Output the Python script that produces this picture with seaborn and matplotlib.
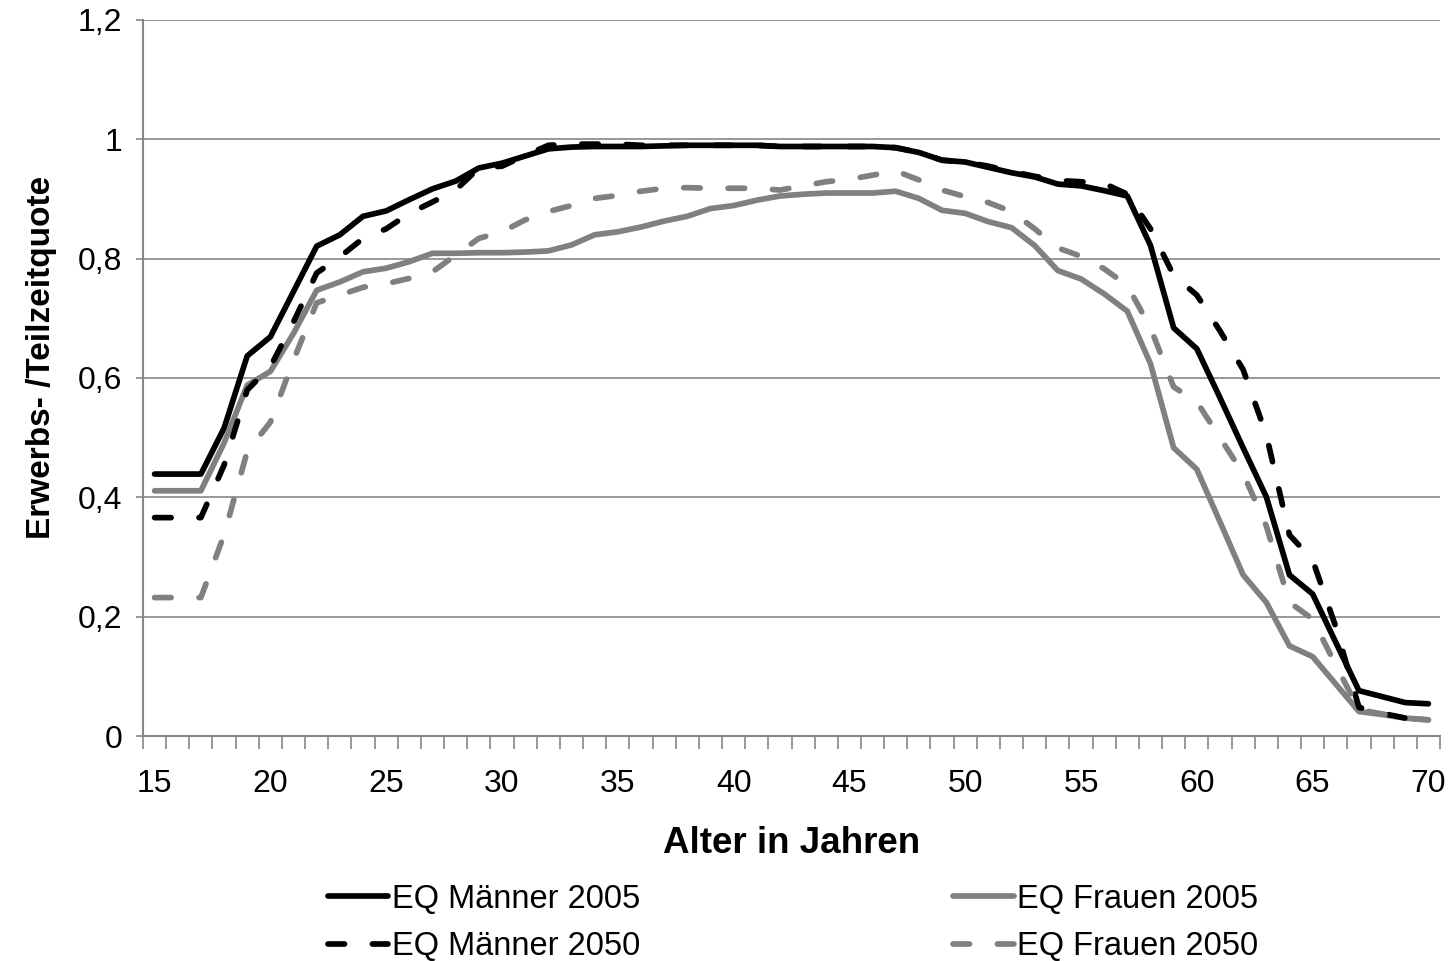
import matplotlib
matplotlib.use("Agg")
import matplotlib.pyplot as plt
import seaborn as sns
import numpy as np
from matplotlib.ticker import FixedLocator, FuncFormatter

ages = list(range(15, 71))

m2005 = [0.439, 0.439, 0.439, 0.516, 0.637, 0.669, 0.745, 0.821, 0.840, 0.871,
         0.880, 0.899, 0.917, 0.930, 0.952, 0.960, 0.972, 0.984, 0.987, 0.988,
         0.988, 0.988, 0.989, 0.990, 0.990, 0.990, 0.990, 0.988, 0.988, 0.988,
         0.988, 0.988, 0.986, 0.978, 0.965, 0.962, 0.953, 0.944, 0.937, 0.925,
         0.922, 0.914, 0.905, 0.822, 0.684, 0.649, 0.567, 0.483, 0.401, 0.270,
         0.238, 0.157, 0.076, 0.066, 0.056, 0.054]

f2005 = [0.411, 0.411, 0.411, 0.491, 0.588, 0.611, 0.675, 0.747, 0.761, 0.778,
         0.784, 0.795, 0.809, 0.809, 0.810, 0.810, 0.811, 0.813, 0.823, 0.840,
         0.845, 0.853, 0.863, 0.871, 0.884, 0.889, 0.898, 0.905, 0.908, 0.910,
         0.910, 0.910, 0.913, 0.901, 0.881, 0.876, 0.862, 0.852, 0.822, 0.780,
         0.766, 0.741, 0.712, 0.624, 0.483, 0.447, 0.359, 0.270, 0.224, 0.151,
         0.133, 0.087, 0.041, 0.036, 0.030, 0.027]

m2050 = [0.366, 0.366, 0.366, 0.454, 0.580, 0.619, 0.694, 0.776, 0.803, 0.834,
         0.850, 0.876, 0.895, 0.915, 0.952, 0.955, 0.973, 0.990, 0.992, 0.992,
         0.992, 0.990, 0.990, 0.990, 0.990, 0.990, 0.990, 0.988, 0.988, 0.988,
         0.988, 0.988, 0.986, 0.978, 0.965, 0.962, 0.955, 0.946, 0.938, 0.931,
         0.929, 0.926, 0.908, 0.850, 0.772, 0.739, 0.679, 0.614, 0.505, 0.337,
         0.295, 0.183, 0.048, 0.038, 0.030, 0.028]

f2050 = [0.232, 0.232, 0.232, 0.337, 0.477, 0.526, 0.630, 0.726, 0.739, 0.752,
         0.758, 0.767, 0.778, 0.806, 0.834, 0.845, 0.865, 0.879, 0.889, 0.901,
         0.906, 0.913, 0.918, 0.919, 0.918, 0.918, 0.918, 0.915, 0.922, 0.929,
         0.933, 0.940, 0.947, 0.932, 0.915, 0.904, 0.894, 0.879, 0.850, 0.818,
         0.804, 0.783, 0.755, 0.684, 0.585, 0.560, 0.500, 0.440, 0.352, 0.224,
         0.196, 0.119, 0.044, 0.037, 0.030, 0.027]

labels = ["EQ Männer 2005", "EQ Frauen 2005", "EQ Männer 2050", "EQ Frauen 2050"]
x_label = "Alter in Jahren"
y_label = "Erwerbs- /Teilzeitquote"
y_ticks = [0, 0.2, 0.4, 0.6, 0.8, 1.0, 1.2]
x_tick_labels = [15, 20, 25, 30, 35, 40, 45, 50, 55, 60, 65, 70]

sns.set_theme(style="white")
plt.rcParams['font.family'] = ['Liberation Sans', 'DejaVu Sans']
plt.rcParams['text.color'] = 'black'
plt.rcParams['axes.labelcolor'] = 'black'
plt.rcParams['xtick.color'] = 'black'
plt.rcParams['ytick.color'] = 'black'

fig = plt.figure(figsize=(14.5, 9.61), dpi=100)
ax = fig.add_axes([143/1450, 1-736/961, (1440-143)/1450, (736-20)/961])

BLACK = "#000000"
GRAY = "#808080"
LW = 4.1
dash = (2.9, 4.9)

series = [
    (m2005, BLACK, None),
    (f2005, GRAY, None),
    (m2050, BLACK, dash),
    (f2050, GRAY, dash),
]
handles = []
for (vals, col, ds), lab in zip(series, labels):
    sns.lineplot(x=ages, y=vals, ax=ax, color=col, linewidth=LW, label=lab,
                 legend=False)
    line = ax.get_lines()[-1]
    line.set_solid_capstyle('round')
    line.set_dash_capstyle('round')
    line.set_solid_joinstyle('round')
    line.set_dash_joinstyle('round')
    if ds is not None:
        line.set_dashes(ds)
    handles.append(line)

ax.set_xlim(14.5, 70.5)
ax.set_ylim(0, 1.2)

ax.yaxis.set_major_locator(FixedLocator(y_ticks))
ax.yaxis.set_major_formatter(FuncFormatter(
    lambda v, p: ("%g" % round(v, 1)).replace(".", ",")))
ax.grid(axis='y', color="#868686", linewidth=1.2)
ax.set_axisbelow(True)

ax.xaxis.set_major_locator(FixedLocator(x_tick_labels))
ax.xaxis.set_minor_locator(FixedLocator(np.arange(14.5, 71, 1.0)))
ax.tick_params(axis='x', which='major', length=0, labelsize=23, pad=24,
               labelcolor='black')
ax.tick_params(axis='x', which='minor', length=9, width=1.2, color="#868686",
               direction='out', bottom=True)
ax.tick_params(axis='y', which='major', length=5, width=1.2, color="#868686",
               direction='out', labelsize=23, pad=10, left=True,
               labelcolor='black')

for s in ['top', 'right']:
    ax.spines[s].set_visible(False)
for s in ['left', 'bottom']:
    ax.spines[s].set_color("#868686")
    ax.spines[s].set_linewidth(1.5)

ax.set_xlabel(x_label, fontsize=26.5, fontweight='bold', labelpad=19,
              color='black')
ax.set_ylabel(y_label, fontsize=24, fontweight='bold', color='black')
ax.yaxis.set_label_coords(-(143 - 57)/1297, (736-357)/716)

order = [0, 2, 1, 3]
leg = fig.legend([handles[i] for i in order], [labels[i] for i in order],
                 loc='center', bbox_to_anchor=(793/1450, 1-923/961), ncol=2,
                 frameon=False, fontsize=23.5, handlelength=1.85,
                 handletextpad=0.1, columnspacing=9.6, labelspacing=0.5)
for t in leg.get_texts():
    t.set_color('black')

fig.savefig("out.png", dpi=100)
